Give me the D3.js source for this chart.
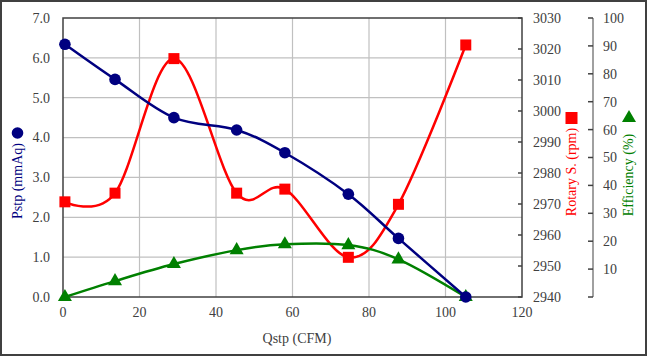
<!DOCTYPE html>
<html><head><meta charset="utf-8">
<script src="https://cdn.jsdelivr.net/npm/d3@7"></script>
<style>body{margin:0;background:#fff}svg{display:block}svg text{font-family:"Liberation Serif","Times New Roman",serif;font-size:14px}</style>
</head><body>
<svg id="c" width="647" height="356"></svg>
<script>
const qstp = [0.5, 13.6, 29.0, 45.4, 58.0, 74.6, 87.7, 105.3];
const pstp = [6.34, 5.46, 4.50, 4.19, 3.62, 2.58, 1.47, 0.0];
const rpm = [2970.7, 2973.5, 3016.9, 2973.5, 2974.8, 2952.8, 2969.9, 3021.3];
const eff = [0.0, 5.7, 11.8, 16.8, 18.9, 18.6, 13.5, 0.0];
const xTicks = [0, 20, 40, 60, 80, 100, 120];
const yTicks = [0, 1, 2, 3, 4, 5, 6, 7];
const rpmTicks = [2940, 2950, 2960, 2970, 2980, 2990, 3000, 3010, 3020, 3030];
const effTicks = [10, 20, 30, 40, 50, 60, 70, 80, 90, 100];

const svg = d3.select("#c");
const L = 63, R = 522, T = 18, B = 297;
const x = d3.scaleLinear().domain([0, 120]).range([L, R]);
const y = d3.scaleLinear().domain([0, 7]).range([B, T]);
const yr = d3.scaleLinear().domain([2940, 3030]).range([B, T]);
const ye = d3.scaleLinear().domain([0, 100]).range([B, T]);
const TXT = "#404040";

svg.append("rect").attr("x", 1).attr("y", 1).attr("width", 645).attr("height", 354)
  .attr("fill", "#fff").attr("stroke", "#404040").attr("stroke-width", 2);

// grid
svg.append("g").selectAll("line").data(yTicks.slice(1, -1)).join("line")
  .attr("x1", L).attr("x2", R).attr("y1", d => y(d)).attr("y2", d => y(d))
  .attr("stroke", "#c0c0c0").attr("stroke-width", 1.2);
svg.append("g").selectAll("line").data(xTicks.slice(1, -1)).join("line")
  .attr("y1", T).attr("y2", B).attr("x1", d => x(d)).attr("x2", d => x(d))
  .attr("stroke", "#c0c0c0").attr("stroke-width", 1.2);

// plot border
svg.append("rect").attr("x", L).attr("y", T).attr("width", R - L).attr("height", B - T)
  .attr("fill", "none").attr("stroke", "#404040").attr("stroke-width", 1.5);

// left axis labels
svg.append("g").selectAll("text").data(yTicks).join("text")
  .attr("x", 50).attr("y", d => y(d)).attr("dy", "0.35em").attr("text-anchor", "end")
  .attr("fill", TXT).text(d => d.toFixed(1));

// x axis labels
svg.append("g").selectAll("text").data(xTicks).join("text")
  .attr("x", d => x(d)).attr("y", 312).attr("dy", "0.35em").attr("text-anchor", "middle")
  .attr("fill", TXT).text(d => d);

// rpm axis ticks + labels
svg.append("g").selectAll("line").data(rpmTicks).join("line")
  .attr("x1", R - 4).attr("x2", R).attr("y1", d => yr(d)).attr("y2", d => yr(d))
  .attr("stroke", "#404040").attr("stroke-width", 1.5);
svg.append("g").selectAll("text").data(rpmTicks).join("text")
  .attr("x", 533).attr("y", d => yr(d)).attr("dy", "0.35em").attr("text-anchor", "start")
  .attr("fill", TXT).text(d => d);

// efficiency axis
const EX = 593;
svg.append("line").attr("x1", EX).attr("x2", EX).attr("y1", T).attr("y2", B)
  .attr("stroke", "#808080").attr("stroke-width", 1.5);
svg.append("g").selectAll("line").data([0].concat(effTicks)).join("line")
  .attr("x1", EX - 5).attr("x2", EX).attr("y1", d => ye(d)).attr("y2", d => ye(d))
  .attr("stroke", "#404040").attr("stroke-width", 1.5);
svg.append("g").selectAll("text").data(effTicks).join("text")
  .attr("x", 603).attr("y", d => ye(d)).attr("dy", "0.35em").attr("text-anchor", "start")
  .attr("fill", TXT).text(d => d);

// lines
const curve = d3.curveCardinal.tension(0);
function series(vals, ys, color) {
  const pts = qstp.map((q, i) => [x(q), ys(vals[i])]);
  svg.append("path").attr("d", d3.line().curve(curve)(pts))
    .attr("fill", "none").attr("stroke", color).attr("stroke-width", 2.5);
  return pts;
}
const pr = series(rpm, yr, "#ff0000");
const pe = series(eff, ye, "#008000");
const pp = series(pstp, y, "#000080");

svg.append("g").selectAll("rect").data(pr).join("rect")
  .attr("x", d => d[0] - 5.5).attr("y", d => d[1] - 5.5).attr("width", 11).attr("height", 11)
  .attr("fill", "#ff0000");
const tri = d3.symbol().type(d3.symbolTriangle).size(85);
svg.append("g").selectAll("path").data(pe).join("path")
  .attr("transform", d => `translate(${d[0]},${d[1]})`).attr("d", tri()).attr("fill", "#008000");
svg.append("g").selectAll("circle").data(pp).join("circle")
  .attr("cx", d => d[0]).attr("cy", d => d[1]).attr("r", 5.8).attr("fill", "#000080");

// axis titles
svg.append("text").attr("transform", "translate(22,181) rotate(-90)").attr("text-anchor", "middle")
  .attr("fill", "#000080").text("Pstp (mmAq)");
svg.append("circle").attr("cx", 17.5).attr("cy", 133).attr("r", 5.8).attr("fill", "#000080");

svg.append("text").attr("transform", "translate(576,172) rotate(-90)").attr("text-anchor", "middle")
  .attr("fill", "#ff0000").text("Rotary S. (rpm)");
svg.append("rect").attr("x", 565.5).attr("y", 112).attr("width", 12).attr("height", 12).attr("fill", "#ff0000");

svg.append("text").attr("transform", "translate(633,175) rotate(-90)").attr("text-anchor", "middle")
  .attr("fill", "#008000").text("Efficiency (%)");
svg.append("path").attr("transform", "translate(629,118)").attr("d", tri()).attr("fill", "#008000");

svg.append("text").attr("x", 297).attr("y", 338).attr("dy", "0.35em").attr("text-anchor", "middle")
  .attr("fill", TXT).text("Qstp (CFM)");
</script>
</body></html>
